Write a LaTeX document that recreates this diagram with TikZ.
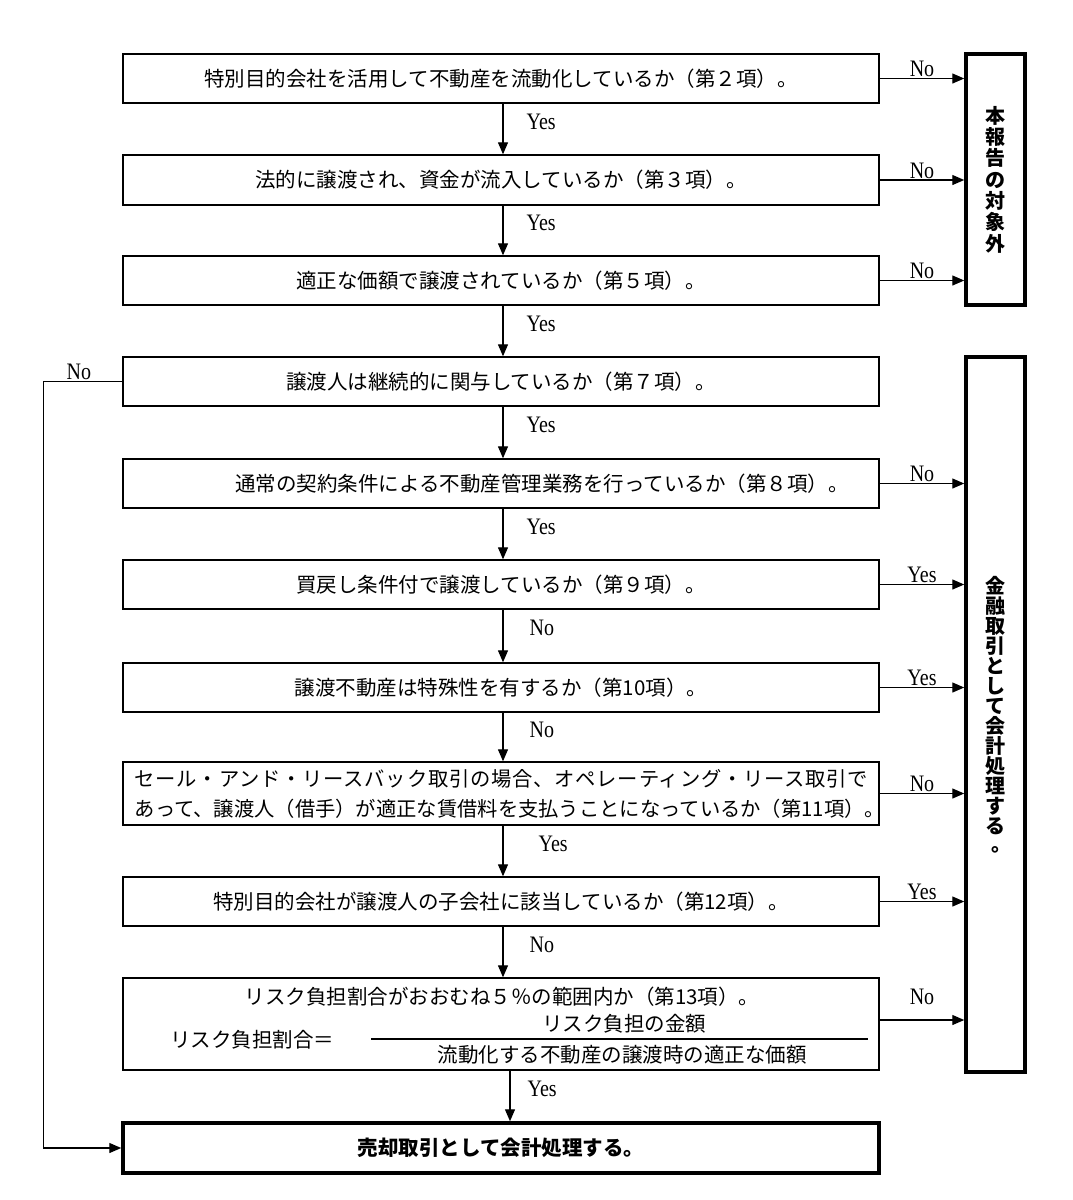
\documentclass[tikz,border=0pt]{standalone}
\usepackage{fontspec}
\usetikzlibrary{arrows.meta}
\newfontfamily\jp{Noto Sans CJK JP}
\newfontfamily\jpls{Noto Sans CJK JP}[LetterSpace=3.9]
\newfontfamily\lat{Liberation Serif}
\newcommand\jpf{\jp\fontsize{20.5}{30}\selectfont}
\newcommand\jpn{\jp\fontsize{20.3}{30}\selectfont}
\newcommand\latf{\lat\fontsize{20}{22}\selectfont}
\newcommand\vone{\jp\bfseries\fontsize{20}{21.3}\selectfont}
\newcommand\vtwo{\jp\bfseries\fontsize{20}{20}\selectfont}
\newcommand\yn[1]{\scalebox{1}[1.18]{#1}}
\newcommand\vdot{\makebox[1em][l]{\kern0.3em\raisebox{0.1em}{。}}}
\begin{document}
\begin{tikzpicture}[x=1pt,y=-1pt,
  box/.style={draw, line width=1.4pt, minimum width=756pt, inner sep=0pt, font=\jpf},
  tbox/.style={draw, line width=3.5pt, inner sep=0pt},
  arr/.style={line width=1.3pt, -{Triangle[length=12pt,width=10pt]}},
  lab/.style={font=\latf, inner sep=1pt},
]
\useasboundingbox (0,0) rectangle (1073,1200);
\fill[white] (0,0) rectangle (1073,1200);

% main boxes
\node[box, minimum height=49pt] (b1) at (501,78.5) {特別目的会社を活用して不動産を流動化しているか（第２項）。};
\node[box, minimum height=50pt] (b2) at (501,180) {法的に譲渡され、資金が流入しているか（第３項）。};
\node[box, minimum height=49pt] (b3) at (501,280.5) {適正な価額で譲渡されているか（第５項）。};
\node[box, minimum height=49pt] (b4) at (501,381.5) {譲渡人は継続的に関与しているか（第７項）。};
\node[box, minimum height=49pt] (b5) at (501,483.5) {\hspace*{82pt}通常の契約条件による不動産管理業務を行っているか（第８項）。};
\node[box, minimum height=49pt] (b6) at (501,584.5) {買戻し条件付で譲渡しているか（第９項）。};
\node[box, minimum height=49pt] (b7) at (501,687.5) {譲渡不動産は特殊性を有するか（第10項）。};
\node[box, minimum height=63pt] (b8) at (501,793.5) {};
\node[font=\jpn, inner sep=0pt, anchor=west, align=left] (t8) at (134.5,793.5) {{\jpls\fontsize{20.3}{30}\selectfont セール・アンド・リースバック取引の場合、オペレーティング・リース取引で}\\あって、譲渡人（借手）が適正な賃借料を支払うことになっているか（第11項）。};
\node[box, minimum height=49pt] (b9) at (501,901.5) {特別目的会社が譲渡人の子会社に該当しているか（第12項）。};
\node[box, minimum height=92pt] (b10) at (501,1024) {};
\node[font=\jpf, inner sep=0pt] (t10a) at (502,997) {リスク負担割合がおおむね５％の範囲内か（第13項）。};
\node[font=\jpf, inner sep=0pt] (t10b) at (252,1040) {リスク負担割合＝};
\node[font=\jpf, inner sep=0pt] (t10n) at (624,1024) {リスク負担の金額};
\node[font=\jpf, inner sep=0pt] (t10d) at (622,1055) {流動化する不動産の譲渡時の適正な価額};
\coordinate (fl) at (371,1039);
\coordinate (fr) at (868,1039);
\draw[line width=1.4pt] (fl) -- (fr);

\node[tbox, minimum width=756pt, minimum height=50pt, font=\jpf\bfseries] (fin) at (501,1148) {売却取引として会計処理する。};

% right boxes
\node[tbox, minimum width=59pt, minimum height=251pt, align=center, font=\vone] (r1) at (995.5,179.5) {本\\報\\告\\の\\対\\象\\外};
\node[tbox, minimum width=59pt, minimum height=715pt, align=center, font=\vtwo] (r2) at (995.5,714.5) {金\\融\\取\\引\\と\\し\\て\\会\\計\\処\\理\\す\\る\\\vdot};

% down arrows
\draw[arr] ([xshift=2pt]b1.south) -- ([xshift=2pt]b2.north) node[lab, pos=0.35, right=22pt] {\yn{Yes}};
\draw[arr] ([xshift=2pt]b2.south) -- ([xshift=2pt]b3.north) node[lab, pos=0.35, right=22pt] {\yn{Yes}};
\draw[arr] ([xshift=2pt]b3.south) -- ([xshift=2pt]b4.north) node[lab, pos=0.35, right=22pt] {\yn{Yes}};
\draw[arr] ([xshift=2pt]b4.south) -- ([xshift=2pt]b5.north) node[lab, pos=0.35, right=22pt] {\yn{Yes}};
\draw[arr] ([xshift=2pt]b5.south) -- ([xshift=2pt]b6.north) node[lab, pos=0.35, right=22pt] {\yn{Yes}};
\draw[arr] ([xshift=2pt]b6.south) -- ([xshift=2pt]b7.north) node[lab, pos=0.35, right=25pt] {\yn{No}};
\draw[arr] ([xshift=2pt]b7.south) -- ([xshift=2pt]b8.north) node[lab, pos=0.35, right=25pt] {\yn{No}};
\draw[arr] ([xshift=2pt]b8.south) -- ([xshift=2pt]b9.north) node[lab, pos=0.35, right=34pt] {\yn{Yes}};
\draw[arr] ([xshift=2pt]b9.south) -- ([xshift=2pt]b10.north) node[lab, pos=0.35, right=25pt] {\yn{No}};
\draw[arr] ([xshift=9pt]b10.south) -- ([xshift=9pt]fin.north) node[lab, pos=0.35, right=16pt] {\yn{Yes}};

% right arrows
\draw[arr] (b1.east) -- (b1.east -| r1.west) node[lab, midway, above] {\yn{No}};
\draw[arr] (b2.east) -- (b2.east -| r1.west) node[lab, midway, above] {\yn{No}};
\draw[arr] (b3.east) -- (b3.east -| r1.west) node[lab, midway, above] {\yn{No}};
\draw[arr] (b5.east) -- (b5.east -| r2.west) node[lab, midway, above] {\yn{No}};
\draw[arr] (b6.east) -- (b6.east -| r2.west) node[lab, midway, above] {\yn{Yes}};
\draw[arr] (b7.east) -- (b7.east -| r2.west) node[lab, midway, above] {\yn{Yes}};
\draw[arr] (b8.east) -- (b8.east -| r2.west) node[lab, midway, above] {\yn{No}};
\draw[arr] (b9.east) -- (b9.east -| r2.west) node[lab, midway, above] {\yn{Yes}};
\draw[arr] ([yshift=4pt]b10.east) -- ([yshift=4pt]b10.east -| r2.west) node[lab, midway, above=14pt] {\yn{No}};

% left No path
\draw[arr] (b4.west) -- node[lab, pos=0.55, above] {\yn{No}} ++(-79,0) |- (fin.west);
\end{tikzpicture}
\end{document}
